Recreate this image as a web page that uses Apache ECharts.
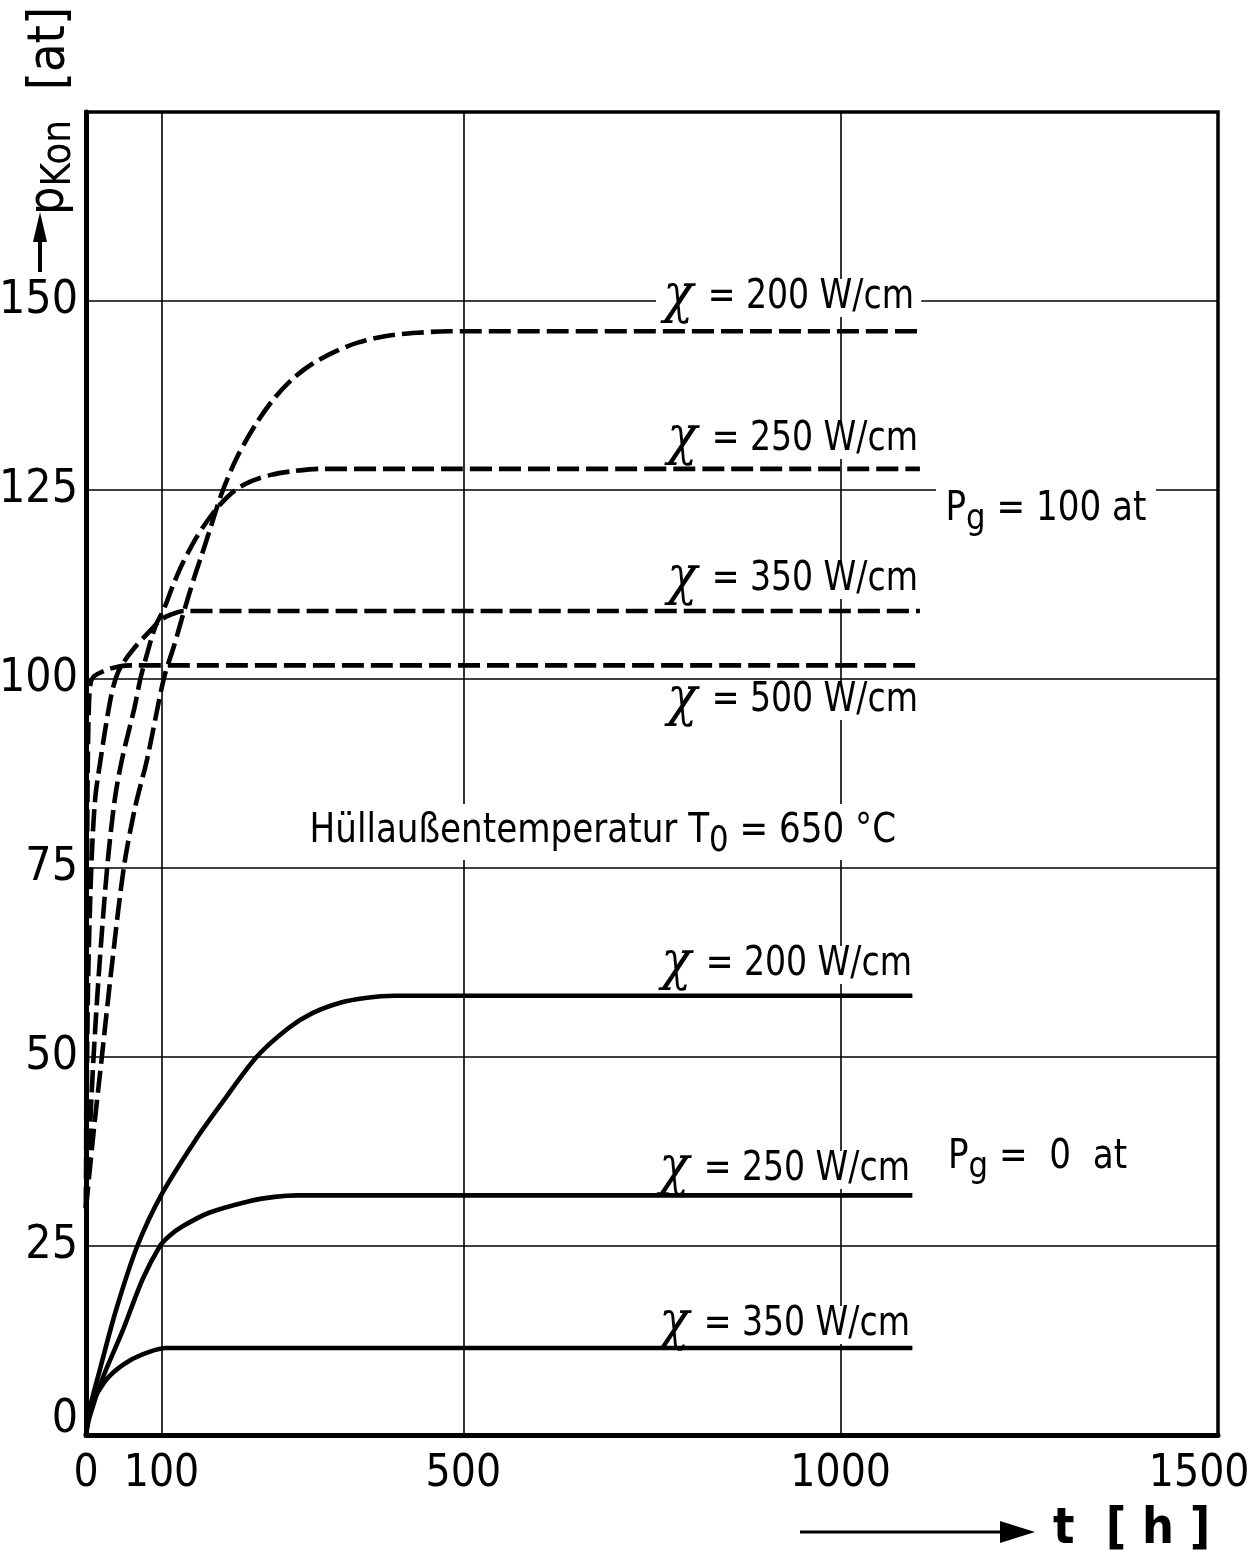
<!DOCTYPE html>
<html>
<head>
<meta charset="utf-8">
<script src="https://cdn.jsdelivr.net/npm/echarts@6/dist/echarts.min.js"></script>
<style>
  html, body { margin: 0; background: #fff; }
  #chart { width: 1250px; height: 1560px; }
</style>
</head>
<body>
<div id="chart"></div>
<script>
// t [h] -> p_Kon [at]
var dash200 = [[0,30],[10,40],[21,50],[33,61],[50,75],[65,83],[81,89.4],[103,100],[117,104.5],[130,109],[143,113.3],[152,116],[165,120],[180,124.6],[200,129.3],[225,133.7],[250,137.2],[275,139.8],[300,141.7],[330,143.3],[360,144.5],[400,145.4],[440,145.8],[480,146],[1105,146]];
var dash250 = [[0,30],[5,40],[10,50],[17,61],[28,75],[38,84],[48,89.5],[64,96.1],[72,100],[80,103],[92,107],[103,109.2],[115,112.3],[128,115.3],[145,118.5],[160,120.8],[177,123],[198,125],[220,126.2],[245,127],[275,127.5],[310,127.8],[1105,127.8]];
var dash350 = [[0,30],[1.5,50],[3,61],[7,75],[12,84],[19.4,89.4],[30,96],[37,99.3],[46,101.6],[64,104.1],[86,106.5],[99,107.8],[112,108.5],[130,109],[1105,109]];
var dash500 = [[0,30],[0.5,50],[1,65],[1.6,78],[2.5,90],[4,97],[6,99.4],[10,100.3],[20,100.9],[30,101.3],[45,101.7],[60,101.8],[1105,101.8]];

var solid200 = [[0,0],[5,3.5],[18,8.5],[40,16.6],[68,25],[100,31.8],[145,39],[180,43.9],[226,50],[268,53.8],[300,55.8],[338,57.2],[370,57.8],[408,58.1],[1095,58.1]];
var solid250 = [[0,0],[5,2.5],[22,7.5],[49,13.9],[75,20.6],[98,25],[110,26.3],[128,27.6],[163,29.4],[215,30.9],[250,31.5],[280,31.7],[1095,31.7]];
var solid350 = [[0,0],[3,2.5],[8,4],[14,5.4],[31,7.8],[57,9.8],[84,11],[106,11.5],[1095,11.5]];

var xTickLabels = [0, 100, 500, 1000, 1500];
var xGridLines = [100, 500, 1000];

var FONT = "'DejaVu Sans Condensed','DejaVu Sans',sans-serif";
var CHI = "'DejaVu Serif',serif";

function curve(name, data, dashed) {
    return {
        name: name,
        type: 'line',
        data: data,
        symbol: 'none',
        smooth: 0.3,
        lineStyle: {
            color: '#000',
            width: 4.6,
            type: dashed ? [22, 7] : 'solid'
        },
        z: 3
    };
}

// "χ = 200 W/cm", squeezed a bit to look like the narrow lettering
function chiLabel(x, y, rest) {
    return {
        type: 'text', x: x, y: y, z: 20, scaleX: 0.92,
        style: {
            text: '{c|χ}{t|' + rest + '}',
            align: 'left', verticalAlign: 'middle',
            backgroundColor: '#fff',
            padding: [1, 8],
            rich: {
                c: { fontFamily: CHI, fontStyle: 'italic', fontSize: 54, fill: '#000', lineHeight: 36, padding: [0, 4, 0, 0] },
                t: { fontFamily: FONT, fontSize: 40, fill: '#000', lineHeight: 36 }
            }
        }
    };
}

function subLabel(x, y, main, sub, rest, bg) {
    return {
        type: 'text', x: x, y: y, z: 20, scaleX: 0.95,
        style: {
            text: '{m|' + main + '}{s|' + sub + '}{m|' + rest + '}',
            align: 'left', verticalAlign: 'middle',
            backgroundColor: bg ? '#fff' : 'transparent',
            padding: bg ? [0, 10] : 0,
            rich: {
                m: { fontFamily: FONT, fontSize: 40, fill: '#000', lineHeight: 56, verticalAlign: 'middle' },
                s: { fontFamily: FONT, fontSize: 36, fill: '#000', lineHeight: 30, verticalAlign: 'bottom' }
            }
        }
    };
}

var chart = echarts.init(document.getElementById('chart'));
chart.setOption({
    animation: false,
    backgroundColor: '#fff',
    grid: {
        left: 86, top: 112, width: 1132, height: 1323,
        outerBoundsMode: 'none',
        containLabel: false,
        show: true, borderColor: '#000', borderWidth: 3.5
    },
    xAxis: {
        type: 'value',
        min: 0, max: 1500, interval: 100,
        axisLine: { lineStyle: { color: '#000', width: 5 } },
        axisTick: { show: false },
        splitLine: { show: false },
        axisLabel: {
            color: '#000', fontFamily: FONT, fontSize: 44, margin: 18,
            formatter: function (v) {
                if (xTickLabels.indexOf(v) < 0) return '';
                // last label sits a little left of its tick in the original
                return v === 1500 ? '1500   ' : String(v);
            }
        }
    },
    yAxis: {
        type: 'value',
        min: 0, max: 175, interval: 25,
        axisLine: { lineStyle: { color: '#000', width: 5 } },
        axisTick: { show: false },
        splitLine: { show: true, lineStyle: { color: '#000', width: 1.6 } },
        axisLabel: {
            color: '#000', fontFamily: FONT, fontSize: 46, margin: 8,
            formatter: function (v) {
                if (v > 150) return '';
                return v === 0 ? '{z|0}' : String(v);
            },
            // the zero sits slightly above the corner
            rich: { z: { fontFamily: FONT, fontSize: 46, color: '#000', padding: [0, 0, 30, 0] } }
        }
    },
    series: [
        curve('χ = 200 W/cm, Pg = 100 at', dash200, true),
        curve('χ = 250 W/cm, Pg = 100 at', dash250, true),
        curve('χ = 350 W/cm, Pg = 100 at', dash350, true),
        curve('χ = 500 W/cm, Pg = 100 at', dash500, true),
        curve('χ = 200 W/cm, Pg = 0 at', solid200, false),
        curve('χ = 250 W/cm, Pg = 0 at', solid250, false),
        Object.assign(curve('χ = 350 W/cm, Pg = 0 at', solid350, false), {
            markLine: {
                silent: true,
                symbol: ['none', 'none'],
                label: { show: false },
                lineStyle: { color: '#000', width: 1.6, type: 'solid' },
                data: xGridLines.map(function (v) { return { xAxis: v }; }),
                z: 1
            }
        })
    ],
    graphic: [
        chiLabel(656, 298, ' = 200 W/cm'),
        chiLabel(660, 440, ' = 250 W/cm'),
        subLabel(936, 510, 'P', 'g', ' = 100 at', true),
        chiLabel(660, 580, ' = 350 W/cm'),
        chiLabel(660, 701, ' = 500 W/cm'),
        subLabel(300, 832, 'Hüllaußentemperatur T', '0', ' = 650 °C', true),
        chiLabel(654, 965, ' = 200 W/cm'),
        chiLabel(652, 1170, ' = 250 W/cm'),
        subLabel(948, 1158, 'P', 'g', ' =  0  at', false),
        chiLabel(652, 1325, ' = 350 W/cm'),
        // y axis name
        {
            type: 'text', x: 50, y: 215, rotation: Math.PI / 2, z: 20,
            style: {
                text: '{p|p}{s|Kon}{b|  [at]}',
                align: 'left', verticalAlign: 'middle',
                rich: {
                    p: { fontFamily: FONT, fontSize: 50, fill: '#000', lineHeight: 60, verticalAlign: 'middle' },
                    s: { fontFamily: FONT, fontSize: 40, fill: '#000', lineHeight: 36, verticalAlign: 'bottom' },
                    b: { fontFamily: FONT, fontSize: 52, fill: '#000', lineHeight: 60, verticalAlign: 'middle' }
                }
            }
        },
        { type: 'line', z: 20, shape: { x1: 40, y1: 272, x2: 40, y2: 236 }, style: { stroke: '#000', lineWidth: 4 } },
        { type: 'polygon', z: 20, shape: { points: [[40, 212], [33, 242], [47, 242]] }, style: { fill: '#000' } },
        // x axis name
        { type: 'line', z: 20, shape: { x1: 800, y1: 1532, x2: 1005, y2: 1532 }, style: { stroke: '#000', lineWidth: 3 } },
        { type: 'polygon', z: 20, shape: { points: [[1035, 1532], [1000, 1521], [1000, 1543]] }, style: { fill: '#000' } },
        {
            type: 'text', x: 1053, y: 1530, z: 20,
            style: { text: 't  [ h ]', align: 'left', verticalAlign: 'middle', fontFamily: FONT, fontSize: 50, fontWeight: 'bold', fill: '#000' }
        }
    ]
});
</script>
</body>
</html>
